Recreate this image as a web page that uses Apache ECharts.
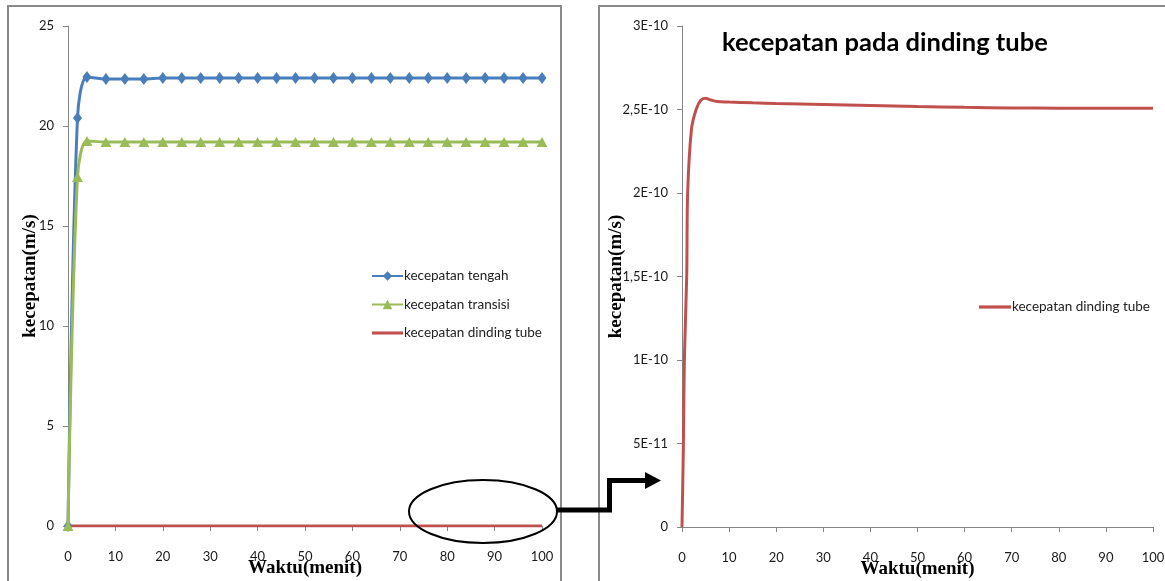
<!DOCTYPE html>
<html>
<head>
<meta charset="utf-8">
<script src="https://cdn.jsdelivr.net/npm/echarts@6/dist/echarts.min.js"></script>
<style>
  html, body { margin: 0; padding: 0; background: #fff; }
  #chart { width: 1165px; height: 581px; }
</style>
</head>
<body>
<div id="chart"></div>
<script>
// Sampling times (minutes) for the centre and transition velocities
const minutes = [0, 2, 4, 8, 12, 16, 20, 24, 28, 32, 36, 40, 44, 48, 52, 56, 60, 64, 68, 72, 76, 80, 84, 88, 92, 96, 100];
// Centre velocity (m/s)
const centerSpeed = [0, 20.4, 22.45, 22.35, 22.35, 22.35, 22.4, 22.4, 22.4, 22.4, 22.4, 22.4, 22.4, 22.4, 22.4, 22.4, 22.4, 22.4, 22.4, 22.4, 22.4, 22.4, 22.4, 22.4, 22.4, 22.4, 22.4];
// Transition-zone velocity (m/s)
const transitionSpeed = [0, 17.45, 19.25, 19.2, 19.2, 19.2, 19.2, 19.2, 19.2, 19.2, 19.2, 19.2, 19.2, 19.2, 19.2, 19.2, 19.2, 19.2, 19.2, 19.2, 19.2, 19.2, 19.2, 19.2, 19.2, 19.2, 19.2];

// Wall velocity: times (minutes) and values (m/s)
const wallMinutes = [0, 0.3, 0.5, 1, 1.2, 2, 3, 4, 5, 6, 7.5, 10, 15, 20, 30, 40, 50, 60, 70, 80, 90, 100];
const wallSpeed = [0, 0.5e-10, 1.0e-10, 1.5e-10, 2.0e-10, 2.38e-10, 2.5e-10, 2.555e-10, 2.567e-10, 2.558e-10, 2.548e-10, 2.545e-10, 2.54e-10, 2.536e-10, 2.53e-10, 2.524e-10, 2.518e-10, 2.513e-10, 2.509e-10, 2.508e-10, 2.507e-10, 2.507e-10];

// Tick labels of the wall-velocity axis
const wallTickLabels = ['0', '5E-11', '1E-10', '1,5E-10', '2E-10', '2,5E-10', '3E-10'];

const seriesNames = ['kecepatan tengah', 'kecepatan transisi', 'kecepatan dinding tube'];
const chartTitle = 'kecepatan pada dinding tube';
const xTitle = 'Waktu(menit)';
const yTitle = 'kecepatan(m/s)';

const BLUE = '#4a7ebb';
const GREEN = '#9bbb59';
const RED = '#c0504d';
const AXIS_GREY = '#868686';
// plain bar used as legend key for the unmarked red line
const LINE_ICON = 'path://M0 0H32V3.2H0Z';

const pairs = (xs, ys) => xs.map((x, i) => [x, ys[i]]);

const tickLabel = { fontFamily: 'Lato', fontSize: 13, color: '#1a1a1a' };
const axisTitle = { fontFamily: 'Liberation Serif', fontWeight: 'bold', fontSize: 19, color: '#000' };
const legendText = { fontFamily: 'Lato', fontSize: 13.5, color: '#222', padding: [0, 0, 0, -4] };

function xAxisFor(gridIndex) {
  return {
    gridIndex, type: 'value', min: 0, max: 100, interval: 10,
    axisLine: { show: true, lineStyle: { color: AXIS_GREY, width: 1 } },
    axisTick: { show: true, length: 5, lineStyle: { color: AXIS_GREY } },
    axisLabel: Object.assign({ margin: 24 }, tickLabel),
    splitLine: { show: false },
    name: xTitle, nameLocation: 'middle', nameGap: 33, nameMoveOverlap: false,
    nameTextStyle: axisTitle
  };
}

const chart = echarts.init(document.getElementById('chart'), null, { renderer: 'canvas' });

chart.setOption({
  animation: false,
  backgroundColor: '#ffffff',
  grid: [
    { left: 68, top: 26, width: 474, height: 500, outerBoundsMode: 'none', containLabel: false },
    { left: 682, top: 26, width: 471, height: 501, outerBoundsMode: 'none', containLabel: false }
  ],
  xAxis: [xAxisFor(0), xAxisFor(1)],
  yAxis: [
    {
      gridIndex: 0, type: 'value', min: 0, max: 25, interval: 5,
      axisLine: { show: true, lineStyle: { color: AXIS_GREY, width: 1 } },
      axisTick: { show: true, length: 5, lineStyle: { color: AXIS_GREY } },
      axisLabel: Object.assign({ margin: 14 }, tickLabel),
      splitLine: { show: false },
      name: yTitle, nameLocation: 'middle', nameGap: 28, nameMoveOverlap: false,
      nameTextStyle: axisTitle
    },
    {
      gridIndex: 1, type: 'value', min: 0, max: 3e-10, interval: 0.5e-10,
      axisLine: { show: true, lineStyle: { color: AXIS_GREY, width: 1 } },
      axisTick: { show: true, length: 5, lineStyle: { color: AXIS_GREY } },
      axisLabel: Object.assign({ margin: 14, formatter: (v, i) => wallTickLabels[i] }, tickLabel),
      splitLine: { show: false },
      name: yTitle, nameLocation: 'middle', nameGap: 56, nameMoveOverlap: false,
      nameTextStyle: axisTitle
    }
  ],
  legend: [
    {
      orient: 'vertical', left: 366, top: 264, itemWidth: 31, itemHeight: 12, itemGap: 14.5,
      selectedMode: false,
      textStyle: legendText,
      data: [
        { name: seriesNames[0] },
        { name: seriesNames[1] },
        { name: seriesNames[2], icon: LINE_ICON }
      ]
    },
    {
      orient: 'vertical', left: 974, top: 295, itemWidth: 32, itemHeight: 12,
      selectedMode: false,
      textStyle: legendText,
      data: [{ name: seriesNames[2], icon: LINE_ICON }]
    }
  ],
  series: [
    {
      name: seriesNames[2], type: 'line', xAxisIndex: 0, yAxisIndex: 0,
      data: pairs(wallMinutes, wallSpeed), symbol: 'none',
      lineStyle: { color: RED, width: 3 }, itemStyle: { color: RED }, z: 2
    },
    {
      name: seriesNames[0], type: 'line', xAxisIndex: 0, yAxisIndex: 0,
      data: pairs(minutes, centerSpeed), smooth: 0.3,
      symbol: 'diamond', symbolSize: [9, 12],
      lineStyle: { color: BLUE, width: 3 }, itemStyle: { color: BLUE }, z: 3
    },
    {
      name: seriesNames[1], type: 'line', xAxisIndex: 0, yAxisIndex: 0,
      data: pairs(minutes, transitionSpeed), smooth: 0.3,
      symbol: 'triangle', symbolSize: [11, 10],
      lineStyle: { color: GREEN, width: 3 }, itemStyle: { color: GREEN }, z: 4
    },
    {
      name: seriesNames[2], type: 'line', xAxisIndex: 1, yAxisIndex: 1,
      data: pairs(wallMinutes, wallSpeed), smooth: 0.3, symbol: 'none',
      lineStyle: { color: RED, width: 3 }, itemStyle: { color: RED }, z: 2
    }
  ],
  graphic: [
    // panel frames
    { type: 'rect', shape: { x: 8, y: 6, width: 553, height: 640 },
      style: { fill: 'none', stroke: '#8a8a8a', lineWidth: 2 }, z: 0 },
    { type: 'rect', shape: { x: 599, y: 6, width: 640, height: 640 },
      style: { fill: 'none', stroke: '#8a8a8a', lineWidth: 2 }, z: 0 },
    // zoom-in callout: ellipse and stepped arrow
    { type: 'ellipse', shape: { cx: 483, cy: 511.5, rx: 74, ry: 31.5 },
      style: { fill: 'none', stroke: '#000', lineWidth: 2 }, z: 100 },
    { type: 'polyline', shape: { points: [[557, 510], [609.5, 510], [609.5, 480.5], [648, 480.5]] },
      style: { fill: null, stroke: '#000', lineWidth: 5, lineJoin: 'miter' }, z: 100 },
    { type: 'polygon', shape: { points: [[645, 472], [661, 480.5], [645, 489]] },
      style: { fill: '#000' }, z: 100 },
    // right panel title
    { type: 'text', x: 722, y: 43, z: 100,
      style: { text: chartTitle, fontFamily: 'Lato', fontWeight: 'bold', fontSize: 25.5,
               fill: '#000', verticalAlign: 'middle', align: 'left' } }
  ]
});
</script>
</body>
</html>
